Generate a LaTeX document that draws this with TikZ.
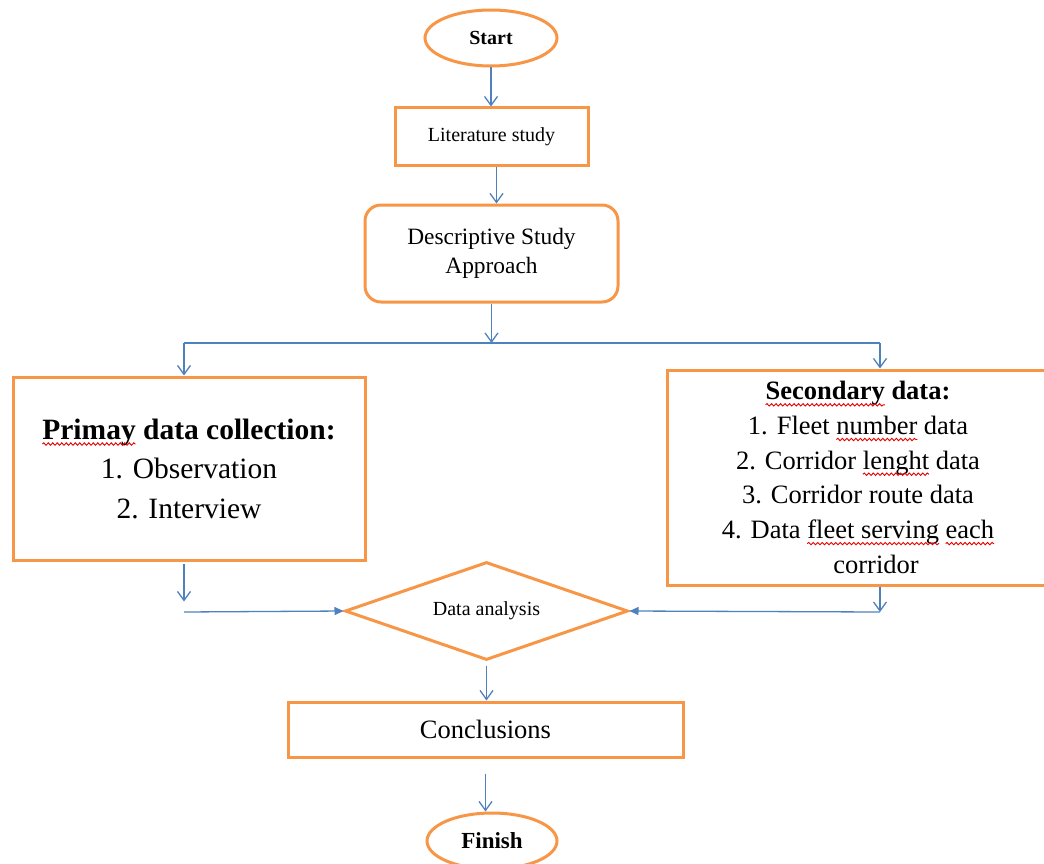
\documentclass[tikz,border=0pt]{standalone}
\usepackage{fontspec}
\setmainfont{Liberation Serif}
\usetikzlibrary{shapes.geometric,arrows.meta,decorations.pathmorphing}
\definecolor{boxorange}{HTML}{F79646}
\definecolor{lineblue}{HTML}{4F81BD}
\newsavebox\spellbox
\newcommand\spellwave[1]{\sbox\spellbox{#1}\usebox\spellbox\llap{\tikz[baseline=0pt]{\path[use as bounding box] (0pt,0pt) rectangle (\wd\spellbox,0pt); \draw[red!90!black,line width=0.9pt,decorate,decoration={snake,amplitude=1.2pt,segment length=4.5pt}] (0pt,-5pt) -- (\wd\spellbox,-5pt);}}}
\begin{document}
\begin{tikzpicture}[x=1pt,y=-1pt,
  obox/.style={draw=boxorange,line width=3pt,fill=white,inner sep=0pt,align=center},
  conn/.style={draw=lineblue,line width=1.3pt},
  varrow/.style={conn,-{Straight Barb[length=9pt,width=13pt,line width=1.3pt]}},
  harrow/.style={conn,-{Triangle[length=9pt,width=8pt]}}]
\useasboundingbox (0,0) rectangle (1044,864);
\clip (0,0) rectangle (1044,864);
% nodes
\node[obox,ellipse,minimum width=132pt,minimum height=56pt,font=\fontsize{20}{24}\selectfont\bfseries] (start) at (491,38) {Start};
\node[obox,minimum width=193pt,minimum height=57pt,font=\fontsize{20}{24}\selectfont] (lit) at (491.5,136.5) {Literature study};
\node[obox,rounded corners=16pt,minimum width=253pt,minimum height=97pt,font=\fontsize{23.4}{29.5}\selectfont] (desc) at (491.5,253.5) {Descriptive Study\\Approach};
\node[obox,minimum width=352pt,minimum height=183pt,font=\fontsize{29.5}{39.5}\selectfont] (prim) at (189,468.5) {\textbf{\spellwave{Primay} data collection:}\\1. Observation\\2. Interview};
\node[obox,minimum width=382pt,minimum height=215pt,font=\fontsize{26.5}{34.7}\selectfont] (sec) at (858,477.5) {\textbf{\spellwave{Secondary} data:}\\1.\hspace{9pt}Fleet \spellwave{number} data\\2.\hspace{9pt}Corridor \spellwave{lenght} data\\3.\hspace{9pt}Corridor route data\\4.\hspace{9pt}Data \spellwave{fleet serving} \spellwave{each}\\\hspace*{36pt}corridor};
\node[obox,diamond,aspect=2.9,minimum width=283pt,minimum height=98pt,font=\fontsize{20}{24}\selectfont] (dia) at (486.5,611) {Data analysis};
\node[obox,minimum width=395pt,minimum height=55pt,font=\fontsize{26.5}{30}\selectfont] (conc) at (485.5,729.5) {Conclusions};
\node[obox,ellipse,minimum width=130pt,minimum height=56pt,font=\fontsize{23}{27}\selectfont\bfseries] (fin) at (492,841) {Finish};
% coordinates
\coordinate (sl) at (184,343);
\coordinate (sr) at (880,343);
\coordinate (ml) at (184,612);
\coordinate (mr) at (880,612);
% connectors
\draw[varrow] (start.south) -- (start.south |- lit.north);
\draw[varrow] ([xshift=5pt]lit.south) -- ([xshift=5pt]lit.south |- desc.north);
\draw[varrow] (desc.south) -- (desc.south |- sl);
\draw[conn] (sl) -- (sr);
\draw[varrow] (sl) -- (sl |- prim.north);
\draw[varrow] (sr) -- (sr |- sec.north);
\draw[varrow] ([yshift=-2pt]sl |- prim.south) -- ++(0,38);
\draw[harrow] (ml) -- (dia.west);
\draw[varrow] (sr |- sec.south) -- (mr);
\draw[harrow] (mr) -- (dia.east);
\draw[varrow] ([yshift=-4pt]dia.south) -- (dia.south |- conc.north);
\draw[varrow] ([yshift=-15pt]conc.south) -- (conc.south |- fin.north);
\end{tikzpicture}
\end{document}
